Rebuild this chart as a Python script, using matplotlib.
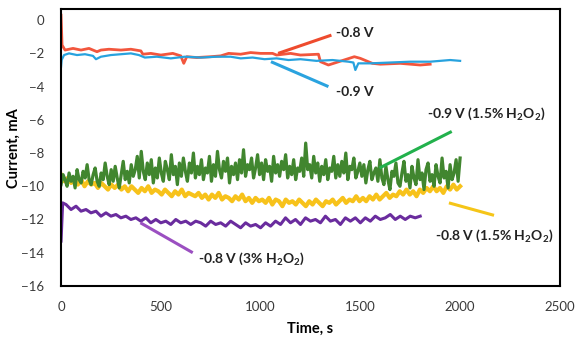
import numpy as np
import matplotlib
matplotlib.use('Agg')
import matplotlib.pyplot as plt

plt.rcParams['font.family'] = ['Lato', 'DejaVu Sans']
plt.rcParams['mathtext.fontset'] = 'custom'
plt.rcParams['mathtext.rm'] = 'Lato'
plt.rcParams['mathtext.bf'] = 'Lato:bold'

# -0.8 V
red_t = [0, 5, 20, 60, 100, 140, 180, 200, 240, 300,
         350, 400, 410, 450, 500, 560, 600, 615, 630, 680,
         750, 800, 840, 900, 950, 1000, 1060, 1080, 1150, 1200,
         1290, 1300, 1340, 1470, 1500, 1560, 1600, 1700, 1800, 1850]
red_i = [0.3, -1.5, -1.8, -1.7, -1.8, -1.7, -1.9, -1.8, -1.75, -1.8,
         -1.75, -1.85, -2.05, -2.0, -2.1, -2.0, -2.15, -2.6, -2.2, -2.25,
         -2.2, -2.15, -2.0, -2.05, -1.95, -2.0, -2.0, -2.1, -2.0, -2.1,
         -2.05, -2.5, -2.7, -2.2, -2.3, -2.6, -2.65, -2.6, -2.7, -2.65]

# -0.9 V
blue_t = [0, 3, 15, 40, 80, 120, 160, 175, 200, 250,
          300, 350, 390, 420, 480, 550, 620, 700, 780, 850,
          900, 960, 1020, 1080, 1140, 1200, 1280, 1360, 1440, 1465,
          1475, 1490, 1550, 1650, 1750, 1850, 1950, 2000]
blue_i = [-2.8, -2.4, -2.1, -2.0, -2.1, -2.05, -2.15, -2.35, -2.2, -2.1,
          -2.05, -2.0, -2.1, -2.25, -2.2, -2.3, -2.2, -2.25, -2.2, -2.2,
          -2.3, -2.25, -2.35, -2.3, -2.4, -2.35, -2.45, -2.4, -2.5, -2.55,
          -3.0, -2.6, -2.6, -2.55, -2.5, -2.5, -2.4, -2.45]

# -0.9 V (1.5% H2O2), 0..2000 s
green_i = [-9.9, -9.3, -9.6, -10.0, -9.2, -9.7, -9.4, -10.1, -9.0, -9.6,
           -9.8, -9.1, -9.5, -8.7, -9.6, -9.9, -9.3, -8.9, -9.7, -10.0,
           -9.2, -9.6, -8.6, -9.4, -9.9, -9.0, -9.7, -8.8, -9.5, -10.1,
           -9.3, -8.5, -9.6, -9.1, -9.8, -8.7, -9.4, -9.0, -8.2, -9.5,
           -7.9, -9.1, -9.6, -8.6, -9.3, -8.4, -9.8, -8.9, -9.5, -8.3,
           -9.2, -9.7, -8.5, -9.0, -9.6, -8.1, -9.3, -8.8, -9.9, -8.6,
           -9.4, -8.3, -9.1, -9.7, -8.6, -9.2, -8.0, -9.5, -8.8, -9.3,
           -8.4, -9.6, -8.9, -9.2, -8.2, -9.7, -8.7, -9.4, -7.9, -9.0,
           -9.5, -8.5, -9.1, -8.3, -9.8, -8.8, -9.3, -8.6, -9.6, -8.4,
           -9.2, -7.8, -9.4, -8.7, -9.0, -8.3, -9.5, -8.9, -8.1, -9.3,
           -8.6, -9.6, -8.4, -9.1, -8.8, -9.7, -8.2, -9.2, -8.7, -9.4,
           -8.5, -9.0, -8.1, -9.5, -8.8, -9.3, -8.4, -9.6, -8.9, -9.1,
           -8.3, -9.4, -7.4, -9.0, -8.7, -9.5, -8.2, -9.2, -8.6, -9.7,
           -8.8, -9.3, -8.4, -9.6, -8.9, -9.1, -8.2, -9.5, -8.7, -9.4,
           -8.5, -9.2, -8.0, -9.6, -8.8, -9.0, -8.3, -9.5, -9.1, -8.6,
           -9.4, -8.7, -9.8, -9.0, -8.5, -9.6, -9.2, -8.9, -9.7, -8.4,
           -9.5, -9.9, -8.8, -9.6, -10.2, -9.1, -9.4, -8.6, -9.8, -10.0,
           -9.2, -8.5, -9.7, -9.3, -10.1, -8.8, -9.5, -9.9, -8.4, -9.6,
           -9.2, -10.2, -9.0, -8.6, -9.7, -9.3, -10.0, -8.7, -9.4, -9.8,
           -8.3, -9.5, -9.1, -10.1, -8.7, -9.6, -9.2, -8.4, -9.7, -8.3]

# -0.8 V (1.5% H2O2), 0..2000 s
yellow_i = [-9.3, -9.7, -9.5, -9.8, -9.6, -9.9, -9.6, -10.0, -9.7, -9.9,
            -9.8, -10.1, -9.8, -10.0, -10.2, -9.9, -10.1, -9.9, -10.2, -10.0,
            -10.3, -10.0, -10.2, -10.4, -10.1, -10.3, -10.0, -10.4, -10.2, -10.3,
            -10.5, -10.2, -10.4, -10.6, -10.3, -10.5, -10.2, -10.6, -10.4, -10.5,
            -10.6, -10.4, -10.7, -10.5, -10.8, -10.5, -10.7, -10.4, -10.8, -10.6,
            -10.7, -10.9, -10.6, -10.8, -10.5, -10.9, -10.7, -11.0, -10.7, -10.9,
            -10.8, -11.0, -10.7, -11.1, -10.8, -10.9, -11.2, -10.8, -11.0, -10.9,
            -11.1, -10.8, -11.0, -11.2, -10.9, -11.1, -10.8, -11.0, -11.2, -10.9,
            -11.0, -10.8, -11.1, -10.9, -10.7, -11.0, -10.8, -10.9, -10.6, -10.9,
            -10.7, -10.9, -10.6, -10.8, -10.5, -10.8, -10.6, -10.4, -10.7, -10.5,
            -10.6, -10.3, -10.5, -10.2, -10.5, -10.3, -10.6, -10.2, -10.4, -10.1,
            -10.3, -10.0, -10.3, -10.1, -10.4, -10.0, -10.2, -9.9, -10.2, -10.0]

# -0.8 V (3% H2O2)
purple_t = [0, 8] + list(range(25, 1801, 25))
purple_i = [-13.3, -11.0,
            -11.1, -11.4, -11.2, -11.5, -11.4, -11.6, -11.5, -11.8, -11.6, -11.8,
            -11.7, -11.9, -11.8, -12.0, -11.9, -12.1, -11.9, -12.2, -12.0, -12.2,
            -12.1, -12.3, -12.0, -12.2, -12.1, -12.3, -12.1, -12.2, -12.4, -12.1,
            -12.3, -12.2, -12.4, -12.1, -12.3, -12.5, -12.2, -12.4, -12.3, -12.5,
            -12.2, -12.4, -12.1, -12.3, -11.9, -12.2, -12.0, -12.3, -11.9, -12.1,
            -12.0, -12.2, -11.8, -12.1, -12.0, -12.3, -11.9, -12.1, -11.9, -12.2,
            -11.9, -12.1, -11.8, -12.0, -11.9, -11.7, -12.0, -11.8, -12.0, -11.8,
            -11.9, -11.8]

# callout labels: text, text pos, line start, line end, line colour
h2o2 = r'H$_\mathbf{2}$O$_\mathbf{2}$'
labels = ['-0.8 V', '-0.9 V', '-0.9 V (1.5% ' + h2o2 + ')',
          '-0.8 V (1.5% ' + h2o2 + ')', '-0.8 V (3% ' + h2o2 + ')']
label_xy = [(1380, -0.8), (1380, -4.3), (1835, -5.6), (1875, -12.95), (685, -14.35)]
line_from = [(1088, -2.0), (1052, -2.5), (1596, -8.9), (1944, -11.0), (398, -12.2)]
line_to = [(1355, -0.9), (1340, -4.0), (1958, -6.7), (2170, -11.75), (660, -14.0)]
line_colors = ['#EE4B2E', '#2AA3DF', '#22B14C', '#F5C518', '#9B4FC1']

fig = plt.figure(figsize=(5.76, 3.47), dpi=100)
ax = fig.add_axes([0.106, 0.176, 0.866, 0.797])

green_t = np.linspace(0, 2000, len(green_i))
yellow_t = np.linspace(0, 2000, len(yellow_i))

ax.plot(yellow_t, yellow_i, color='#F7C21B', lw=3.0)
ax.plot(green_t, green_i, color='#41862F', lw=2.3)
ax.plot(purple_t, purple_i, color='#6A2C9E', lw=2.2)
ax.plot(red_t, red_i, color='#F2563D', lw=2.0)
ax.plot(blue_t, blue_i, color='#27A2DE', lw=1.6)

for txt, pos, p0, p1, c in zip(labels, label_xy, line_from, line_to, line_colors):
    ax.plot([p0[0], p1[0]], [p0[1], p1[1]], color=c, lw=2.2, solid_capstyle='butt')
    ax.text(pos[0], pos[1], txt, fontsize=10, fontweight='bold', color='#222222',
            ha='left', va='center')

ax.set_xlim(0, 2500)
ax.set_ylim(-16, 0.65)
ax.set_xticks(range(0, 2501, 500))
ax.set_yticks(range(-16, 1, 2))
ax.tick_params(length=0, labelsize=9.5, labelcolor='#3a3a3a')
ax.tick_params(axis='y', pad=12)
ax.tick_params(axis='x', pad=11)
for s in ax.spines.values():
    s.set_linewidth(1.5)
    s.set_color('black')

ax.set_xlabel('Time, s', fontsize=10.5, fontweight='bold', labelpad=6)
ax.set_ylabel('Current, mA', fontsize=10.5, fontweight='bold', labelpad=0)

fig.savefig('out.png', dpi=100)
